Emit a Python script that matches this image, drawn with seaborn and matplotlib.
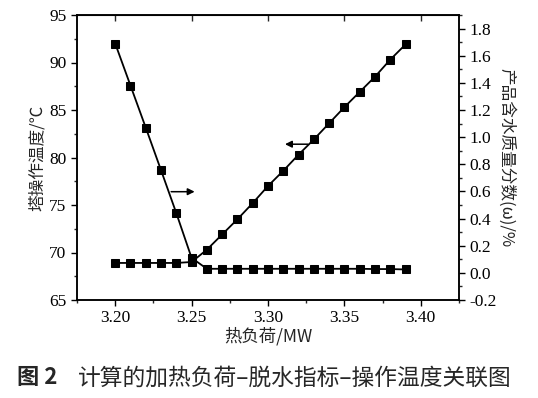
import matplotlib
matplotlib.use('Agg')
import matplotlib.pyplot as plt
from matplotlib.ticker import MultipleLocator, FormatStrFormatter
import seaborn as sns

# 数据：热负荷 / 塔操作温度 / 产品含水质量分数
heat_load = [3.20, 3.21, 3.22, 3.23, 3.24, 3.25, 3.26, 3.27, 3.28, 3.29,
             3.30, 3.31, 3.32, 3.33, 3.34, 3.35, 3.36, 3.37, 3.38, 3.39]
tower_temp = [68.9, 68.9, 68.9, 68.9, 68.9, 69.0, 70.3, 71.9, 73.5, 75.2,
              77.0, 78.6, 80.3, 81.9, 83.6, 85.3, 86.9, 88.5, 90.3, 91.9]
water_frac = [1.69, 1.38, 1.07, 0.756, 0.44, 0.11, 0.03, 0.03, 0.03, 0.03,
              0.03, 0.03, 0.03, 0.03, 0.03, 0.03, 0.03, 0.028, 0.028, 0.025]
x_ticks = [3.20, 3.25, 3.30, 3.35, 3.40]

sns.set_style('ticks')
plt.rcParams['font.family'] = ['Liberation Serif', 'Noto Sans CJK SC']
serif = ['Liberation Serif', 'Noto Sans CJK SC']
cjk = ['Noto Sans CJK SC', 'Liberation Serif']

fig = plt.figure(figsize=(5.38, 3.98), dpi=100)
ax = fig.add_axes([77 / 538, 98 / 398, 382 / 538, 285 / 398])
ax2 = ax.twinx()

line_kw = dict(color='black', marker='s', markersize=5.5, markeredgecolor='black',
               linewidth=1.3)
sns.lineplot(x=heat_load, y=tower_temp, ax=ax, **line_kw)
sns.lineplot(x=heat_load, y=water_frac, ax=ax2, **line_kw)

ax.set_xlim(3.175, 3.425)
ax.set_ylim(65, 95)
ax2.set_ylim(-0.2, 1.9)

ax.set_xticks(x_ticks)
ax.xaxis.set_major_formatter(FormatStrFormatter('%.2f'))
ax.xaxis.set_minor_locator(MultipleLocator(0.025))
ax.yaxis.set_major_locator(MultipleLocator(5))
ax.yaxis.set_minor_locator(MultipleLocator(2.5))
ax2.yaxis.set_major_locator(MultipleLocator(0.2))
ax2.yaxis.set_minor_locator(MultipleLocator(0.1))
ax2.yaxis.set_major_formatter(FormatStrFormatter('%.1f'))

for a in (ax, ax2):
    a.tick_params(which='major', direction='out', length=4, width=1, labelsize=12.5, colors='black')
    a.tick_params(which='minor', direction='out', length=2.5, width=1)
    for lab in a.get_xticklabels() + a.get_yticklabels():
        lab.set_family(serif)
    for s in a.spines.values():
        s.set_linewidth(1.1)
        s.set_color('black')

# 顶部只有向内的主刻度
top = ax.secondary_xaxis('top')
top.set_xticks(x_ticks)
top.tick_params(direction='in', length=4, width=1, labeltop=False)

ax.set_xlabel('热负荷/MW', fontsize=12.5, family=cjk)
ax.set_ylabel('塔操作温度/℃', fontsize=12, family=cjk)
ax2.set_ylabel('产品含水质量分数(ω)/%', fontsize=12, family=cjk, rotation=270, va='center')
ax.xaxis.set_label_coords(0.5, -27 / 285)
ax.yaxis.set_label_coords(-31 / 382, 0.5)
ax2.yaxis.set_label_coords(429 / 382, 0.5)

# 指向坐标轴的箭头
arrow = dict(arrowstyle='-|>', color='black', lw=1.1, mutation_scale=10)
ax.annotate('', xy=(3.2538, 76.4), xytext=(3.2348, 76.4), arrowprops=arrow)
ax.annotate('', xy=(3.3093, 81.4), xytext=(3.3279, 81.4), arrowprops=arrow)

fig.text(17 / 538, 1 - 378 / 398, '图 2', fontsize=16, family=cjk, weight='bold', va='center')
fig.text(78 / 538, 1 - 378 / 398, '计算的加热负荷–脱水指标–操作温度关联图', fontsize=16.4,
         family=cjk, va='center')

fig.savefig('out.png', dpi=100)
